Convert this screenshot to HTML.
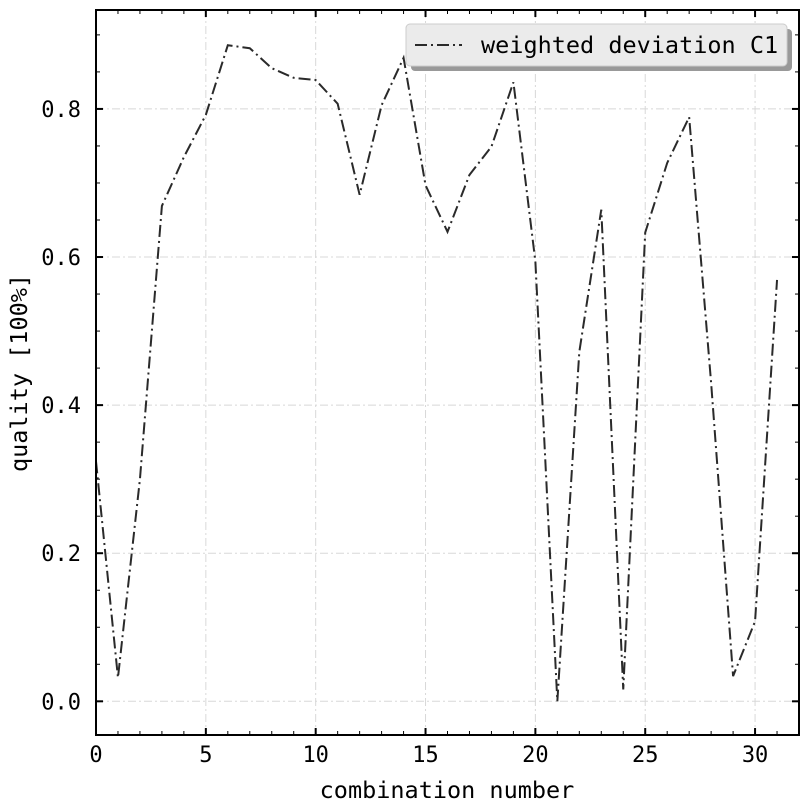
<!DOCTYPE html>
<html><head><meta charset="utf-8">
<style>
html,body{margin:0;padding:0;background:#fff;}
svg{display:block;font-family:"DejaVu Sans Mono","Liberation Mono",monospace;}
</style></head>
<body>
<svg id="chart" width="811" height="811" viewBox="0 0 811 811" xmlns="http://www.w3.org/2000/svg"></svg>
<script>
const combos = [0,1,2,3,4,5,6,7,8,9,10,11,12,13,14,15,16,17,18,19,20,21,22,23,24,25,26,27,28,29,30,31];
const quality = [0.324,0.032,0.30,0.669,0.735,0.792,0.886,0.882,0.855,0.842,0.839,0.807,0.684,0.805,0.869,0.697,0.634,0.711,0.749,0.836,0.594,0.0,0.472,0.664,0.016,0.633,0.727,0.789,0.43,0.034,0.108,0.569];
const xTicks = [0,5,10,15,20,25,30];
const yTicks = [0.0,0.2,0.4,0.6,0.8];
const yTickLabels = ["0.0","0.2","0.4","0.6","0.8"];

const L=96,R=799,T=10,B=735;
const xMin=0,xMax=32,yMin=-0.0455,yMax=0.9336;
const sx=v=>L+(v-xMin)/(xMax-xMin)*(R-L);
const sy=v=>B-(v-yMin)/(yMax-yMin)*(B-T);
const svg=document.getElementById('chart');
const NS='http://www.w3.org/2000/svg';
function mk(tag,attrs,parent){const e=document.createElementNS(NS,tag);for(const k in attrs)e.setAttribute(k,attrs[k]);(parent||svg).appendChild(e);return e;}

const grid=mk('g',{});


xTicks.forEach(t=>{if(t===0)return;mk('line',{x1:sx(t),x2:sx(t),y1:T,y2:B,stroke:'#d8d8d8','stroke-width':1,'stroke-dasharray':'8,3,2,3'},grid);});
yTicks.forEach(t=>{mk('line',{x1:L,x2:R,y1:sy(t),y2:sy(t),stroke:'#d8d8d8','stroke-width':1,'stroke-dasharray':'8,3,2,3'},grid);});

const pts=combos.map((c,i)=>sx(c)+','+sy(quality[i])).join(' ');
const line=mk('polyline',{points:pts,fill:'none',stroke:'#2a2a2a','stroke-width':2,'stroke-dasharray':'12,4,2,4'});



const frame=mk('rect',{x:L,y:T,width:R-L,height:B-T,fill:'none',stroke:'#000','stroke-width':2});



const ticks=mk('g',{stroke:'#000'});


for(let v=0;v<=32;v++){const x=sx(v);const maj=v%5===0;const len=maj?7:4;
 mk('line',{x1:x,x2:x,y1:B,y2:B-len,'stroke-width':maj?2:1},ticks);
 mk('line',{x1:x,x2:x,y1:T,y2:T+len,'stroke-width':maj?2:1},ticks);}
for(let k=0;k<=18;k++){const v=k*0.05;if(v>yMax)break;const y=sy(v);const maj=k%4===0;const len=maj?7:4;
 mk('line',{x1:L,x2:L+len,y1:y,y2:y,'stroke-width':maj?2:1},ticks);
 mk('line',{x1:R,x2:R-len,y1:y,y2:y,'stroke-width':maj?2:1},ticks);}

xTicks.forEach(t=>{const e=mk('text',{x:sx(t),y:B+27,'text-anchor':'middle','font-size':22,fill:'#000'});e.textContent=String(t);
 
 });
yTicks.forEach((t,i)=>{const e=mk('text',{x:L-15,y:sy(t)+8,'text-anchor':'end','font-size':22,fill:'#000'});e.textContent=yTickLabels[i];
 
 });

const xt=mk('text',{x:447,y:798,'text-anchor':'middle','font-size':23.5,fill:'#000'});xt.textContent='combination number';


const yt=mk('text',{x:0,y:0,'text-anchor':'middle','font-size':23.5,fill:'#000',transform:'translate(27,373) rotate(-90)'});yt.textContent='quality [100%]';



const lg=mk('g',{});


mk('rect',{x:411,y:29,width:381,height:42,rx:4,fill:'#999'},lg);
mk('rect',{x:406,y:24,width:381,height:42,rx:4,fill:'#ebebeb',stroke:'#ccc','stroke-width':1},lg);
mk('line',{x1:415,x2:462,y1:45,y2:45,stroke:'#2a2a2a','stroke-width':2,'stroke-dasharray':'12,4,2,4'},lg);
const lt=mk('text',{x:481,y:53,'font-size':23.5,fill:'#000'},lg);lt.textContent='weighted deviation C1';


</script>
</body></html>
